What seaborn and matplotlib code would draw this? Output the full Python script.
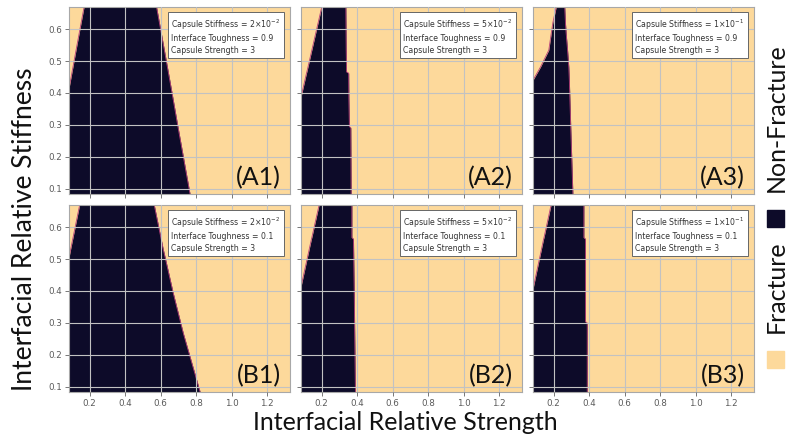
import numpy as np
import seaborn as sns
import matplotlib.pyplot as plt
from matplotlib.patches import Rectangle

# colores de las regiones
DARK = '#0d0b29'
LIGHT = '#fdd99b'
EDGE = '#b8407a'

# limites de los ejes (resistencia relativa / rigidez relativa)
x_lim = (0.083, 1.33)
y_lim = (0.084, 0.669)
x_ticks = [0.2, 0.4, 0.6, 0.8, 1.0, 1.2]
y_ticks = [0.1, 0.2, 0.3, 0.4, 0.5, 0.6]

# frontera de la zona sin fractura (por panel)
a1_y = [0.669, 0.55, 0.414, 0.30, 0.084]
a1_left = [0.168, 0.128, 0.083, 0.0, 0.0]
a1_right = [0.577, 0.616, 0.660, 0.696, 0.766]

a2_y = [0.669, 0.534, 0.466, 0.462, 0.387, 0.295, 0.291, 0.084]
a2_left = [0.200, 0.144, 0.116, 0.114, 0.083, 0.0, 0.0, 0.0]
a2_right = [0.336, 0.338, 0.340, 0.352, 0.353, 0.356, 0.364, 0.366]

a3_y = [0.669, 0.62, 0.587, 0.534, 0.481, 0.44, 0.293, 0.084]
a3_left = [0.214, 0.195, 0.186, 0.172, 0.125, 0.083, 0.0, 0.0]
a3_right = [0.262, 0.266, 0.270, 0.278, 0.285, 0.288, 0.296, 0.308]

b1_y = [0.669, 0.53, 0.504, 0.394, 0.268, 0.084]
b1_left = [0.143, 0.092, 0.083, 0.0, 0.0, 0.0]
b1_right = [0.564, 0.615, 0.626, 0.671, 0.728, 0.823]

b2_y = [0.669, 0.567, 0.563, 0.413, 0.084]
b2_left = [0.185, 0.144, 0.142, 0.083, 0.0]
b2_right = [0.370, 0.370, 0.379, 0.383, 0.390]

b3_y = [0.669, 0.567, 0.563, 0.406, 0.304, 0.300, 0.084]
b3_left = [0.185, 0.145, 0.143, 0.083, 0.0, 0.0, 0.0]
b3_right = [0.370, 0.370, 0.379, 0.379, 0.379, 0.389, 0.389]

panel_names = ['(A1)', '(A2)', '(A3)', '(B1)', '(B2)', '(B3)']
capsule_stiffness = [r'$2{\times}10^{-2}$', r'$5{\times}10^{-2}$', r'$1{\times}10^{-1}$'] * 2
interface_toughness = ['0.9', '0.9', '0.9', '0.1', '0.1', '0.1']
capsule_strength = ['3'] * 6

boundaries = [
    (a1_y, a1_left, a1_right), (a2_y, a2_left, a2_right), (a3_y, a3_left, a3_right),
    (b1_y, b1_left, b1_right), (b2_y, b2_left, b2_right), (b3_y, b3_left, b3_right),
]

sns.set_theme(style='ticks')
plt.rcParams['font.family'] = ['DejaVu Sans']
big_font = ['Lato', 'DejaVu Sans']

W, H = 793, 441
fig = plt.figure(figsize=(W / 100, H / 100), dpi=100)

col_left = [69, 301, 533]
row_top = [7, 205]
ax_w, ax_h = 221, 187

for i, (yy, left, right) in enumerate(boundaries):
    r, c = divmod(i, 3)
    ax = fig.add_axes([col_left[c] / W, (H - row_top[r] - ax_h) / H, ax_w / W, ax_h / H])
    ax.set_facecolor(LIGHT)
    ax.fill_betweenx(yy, left, right, color=DARK, lw=0)
    ax.plot(left, yy, color=EDGE, lw=0.6)
    ax.plot(right, yy, color=EDGE, lw=0.6)

    ax.set_xlim(*x_lim)
    ax.set_ylim(*y_lim)
    ax.set_xticks(x_ticks)
    ax.set_yticks(y_ticks)
    ax.set_axisbelow(False)
    ax.grid(True, color='#c2c2c2', lw=0.8)
    ax.tick_params(labelsize=6.3, labelcolor='#5a5a5a', color='#777777',
                   length=3, width=0.7, pad=2)
    if r == 0:
        ax.set_xticklabels([])
    if c > 0:
        ax.set_yticklabels([])
    for s in ax.spines.values():
        s.set_color('#a8a8a8')
        s.set_linewidth(0.8)

    info = (f'Capsule Stiffness = {capsule_stiffness[i]}\n'
            f'Interface Toughness = {interface_toughness[i]}\n'
            f'Capsule Strength = {capsule_strength[i]}')
    ax.text(0.955, 0.945, info, transform=ax.transAxes, ha='right', va='top',
            multialignment='left', fontsize=5.6, color='#333333', linespacing=1.35,
            bbox=dict(boxstyle='square,pad=0.45', fc='white', ec='#666666', lw=0.7))

    ax.text(0.96, 0.045, panel_names[i], transform=ax.transAxes, ha='right',
            va='baseline', fontsize=18, family=big_font, color='#111111')

fig.text(405.5 / W, 11 / H, 'Interfacial Relative Strength', ha='center',
         va='baseline', fontsize=18, family=big_font, color='#111111')
fig.text(25 / W, 212 / H, 'Interfacial Relative Stiffness', ha='center',
         va='center', rotation=90, fontsize=19, family=big_font, color='#111111')

# leyenda vertical a la derecha
fig.text(776 / W, (H - 118) / H, 'Non-Fracture', ha='center', va='center',
         rotation=90, fontsize=18, family=big_font, color='#111111')
fig.text(776 / W, (H - 287) / H, 'Fracture', ha='center', va='center',
         rotation=90, fontsize=18, family=big_font, color='#111111')
fig.add_artist(Rectangle((767 / W, (H - 227) / H), 17 / W, 17 / H,
                         transform=fig.transFigure, color=DARK))
fig.add_artist(Rectangle((767 / W, (H - 368) / H), 17 / W, 17 / H,
                         transform=fig.transFigure, color=LIGHT))

fig.savefig('out.png', dpi=100, facecolor='white')
